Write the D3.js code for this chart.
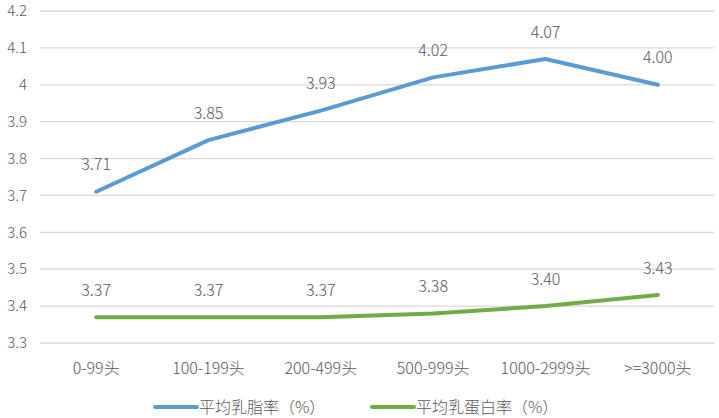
<!DOCTYPE html>
<html>
<head>
<meta charset="utf-8">
<script src="https://cdn.jsdelivr.net/npm/d3@7"></script>
<style>
  body { margin: 0; background: #fff; }
  text { font-family: "Noto Sans CJK SC", "DejaVu Sans", sans-serif; fill: #595959; font-weight: 300; }
</style>
</head>
<body>
<div id="chart"></div>
<script>
const width = 719;
const height = 418;

// 数据
const categories = ["0-99头", "100-199头", "200-499头", "500-999头", "1000-2999头", ">=3000头"];
const fat = [3.71, 3.85, 3.93, 4.02, 4.07, 4.00];
const protein = [3.37, 3.37, 3.37, 3.38, 3.40, 3.43];
const yTicks = [3.3, 3.4, 3.5, 3.6, 3.7, 3.8, 3.9, 4, 4.1, 4.2];
const seriesNames = ["平均乳脂率（%）", "平均乳蛋白率（%）"];

const margin = { top: 11, right: 5, bottom: 75, left: 40 };

const svg = d3.select("#chart")
  .append("svg")
  .attr("width", width)
  .attr("height", height);

const x = d3.scaleBand()
  .domain(categories)
  .range([margin.left, width - margin.right]);

const y = d3.scaleLinear()
  .domain([3.3, 4.2])
  .range([height - margin.bottom, margin.top]);

// 网格线
svg.append("g")
  .selectAll("line")
  .data(yTicks)
  .enter()
  .append("line")
  .attr("x1", margin.left)
  .attr("x2", width - margin.right)
  .attr("y1", d => y(d))
  .attr("y2", d => y(d))
  .attr("stroke", "#d9d9d9")
  .attr("stroke-width", 1.3);

// y 轴标签
svg.append("g")
  .selectAll("text")
  .data(yTicks)
  .enter()
  .append("text")
  .attr("x", 27)
  .attr("y", d => y(d))
  .attr("dy", "0.35em")
  .attr("text-anchor", "end")
  .style("font-size", "15px")
  .text(d => d);

// x 轴标签
svg.append("g")
  .selectAll("text")
  .data(categories)
  .enter()
  .append("text")
  .attr("x", d => x(d) + x.bandwidth() / 2)
  .attr("y", height - margin.bottom + 25)
  .attr("dy", "0.35em")
  .attr("text-anchor", "middle")
  .style("font-size", "16px")
  .text(d => d);

const line = d3.line()
  .x((d, i) => x(categories[i]) + x.bandwidth() / 2)
  .y(d => y(d));

const series = [
  { name: seriesNames[0], values: fat, color: "#5B9BD5" },
  { name: seriesNames[1], values: protein, color: "#70AD47" }
];

series.forEach(s => {
  svg.append("path")
    .datum(s.values)
    .attr("fill", "none")
    .attr("stroke", s.color)
    .attr("stroke-width", 4)
    .attr("stroke-linecap", "round")
    .attr("stroke-linejoin", "round")
    .attr("d", line);

  svg.append("g")
    .selectAll("text")
    .data(s.values)
    .enter()
    .append("text")
    .attr("x", (d, i) => x(categories[i]) + x.bandwidth() / 2)
    .attr("y", d => y(d) - 27)
    .attr("dy", "0.35em")
    .attr("text-anchor", "middle")
    .style("font-size", "16px")
    .text(d => d.toFixed(2));
});

// 图例
const legendX = [155, 372];
series.forEach((s, i) => {
  const g = svg.append("g").attr("transform", `translate(${legendX[i]},${height - 11})`);
  g.append("line")
    .attr("x1", 0)
    .attr("x2", 42)
    .attr("stroke", s.color)
    .attr("stroke-width", 4)
    .attr("stroke-linecap", "round");
  g.append("text")
    .attr("x", 44)
    .attr("dy", "0.35em")
    .style("font-size", "16px")
    .text(s.name);
});
</script>
</body>
</html>
